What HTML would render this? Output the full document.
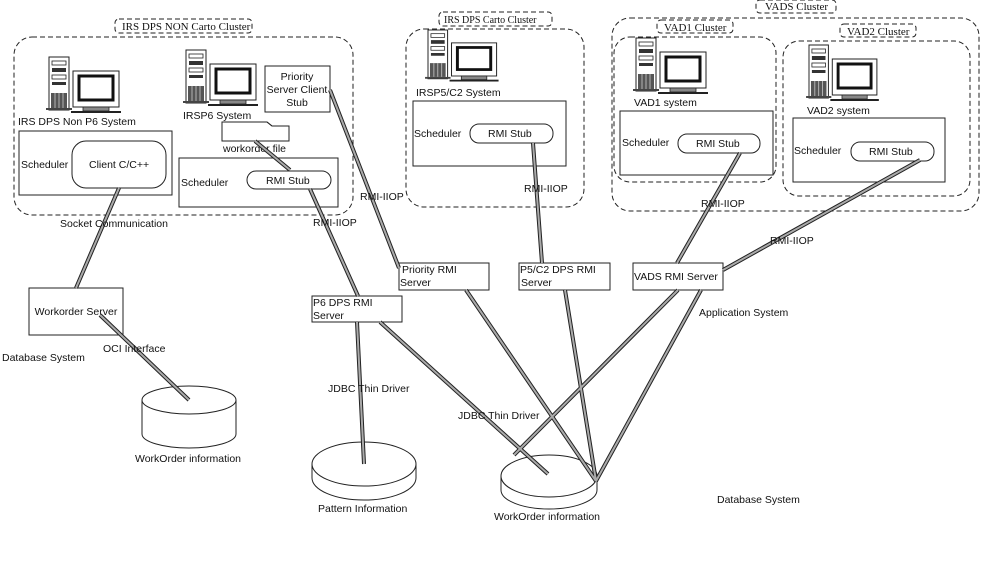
<!DOCTYPE html>
<html><head><meta charset="utf-8"><style>
html,body{margin:0;padding:0;background:#fff}
svg{display:block}
text{font-family:"Liberation Sans",sans-serif;font-size:10.5px;fill:#111}
.s{font-family:"Liberation Serif",serif;font-size:11px}
.d{fill:none;stroke:#222;stroke-width:1;stroke-dasharray:5,3}
.b{fill:#fff;stroke:#222;stroke-width:1}
.l1{stroke:#222;stroke-width:4;fill:none}
.l2{stroke:#aaa;stroke-width:2;fill:none}
</style></head><body>
<svg width="981" height="566" viewBox="0 0 981 566" xmlns="http://www.w3.org/2000/svg">
<defs>
<g id="pc">
<rect x="0" y="0" width="20" height="53" fill="#fff" stroke="#222"/>
<rect x="3" y="4" width="14" height="4" fill="#fff" stroke="#222" stroke-width="0.8"/>
<rect x="3" y="11" width="14" height="4" fill="#333"/>
<rect x="3" y="18" width="14" height="4" fill="#fff" stroke="#222" stroke-width="0.8"/>
<rect x="3" y="25" width="14" height="3" fill="#333"/>
<rect x="2" y="36" width="16" height="15" fill="#555"/>
<path d="M6 36v15M10 36v15M14 36v15" stroke="#ccc" stroke-width="0.8"/>
<rect x="-3" y="51" width="26" height="2" fill="#444"/>
<rect x="24" y="14" width="46" height="36" fill="#fff" stroke="#222"/>
<rect x="30" y="19" width="34" height="24" fill="#fff" stroke="#111" stroke-width="3"/>
<rect x="34" y="50" width="26" height="4" fill="#888" stroke="#222" stroke-width="0.8"/>
<rect x="22" y="54" width="50" height="2" fill="#222"/>
</g>
</defs>

<!-- clusters -->
<rect x="115" y="19" width="137" height="14" rx="4" class="d"/>
<text x="122" y="30" class="s">IRS DPS NON Carto Cluster</text>
<rect x="14" y="37" width="339" height="178" rx="18" class="d"/>

<rect x="439" y="12" width="113" height="14" rx="4" class="d"/>
<text x="444" y="23" class="s" style="font-size:10px">IRS DPS Carto Cluster</text>
<rect x="406" y="29" width="178" height="178" rx="18" class="d"/>

<rect x="756" y="0" width="80" height="13" rx="4" class="d"/>
<text x="765" y="10" class="s">VADS  Cluster</text>
<rect x="612" y="18" width="367" height="193" rx="18" class="d"/>
<rect x="657" y="20" width="76" height="13" rx="4" class="d"/>
<text x="664" y="31" class="s">VAD1 Cluster</text>
<rect x="614" y="37" width="162" height="145" rx="16" class="d"/>
<rect x="840" y="24" width="76" height="13" rx="4" class="d"/>
<text x="847" y="35" class="s">VAD2 Cluster</text>
<rect x="783" y="41" width="187" height="155" rx="16" class="d"/>

<!-- computers -->
<use href="#pc" transform="translate(49,57)"/>
<use href="#pc" transform="translate(186,50)"/>
<use href="#pc" transform="translate(428,30) scale(0.98,0.92)"/>
<use href="#pc" transform="translate(636,38)"/>
<use href="#pc" transform="translate(809,45) scale(0.97,1)"/>

<text x="18" y="125">IRS DPS Non P6 System</text>
<text x="183" y="119">IRSP6 System</text>
<text x="416" y="96">IRSP5/C2 System</text>
<text x="634" y="106">VAD1 system</text>
<text x="807" y="114">VAD2 system</text>

<!-- boxes -->
<rect x="19" y="131" width="153" height="64" class="b"/>
<text x="21" y="168">Scheduler</text>
<rect x="72" y="141" width="94" height="47" rx="14" class="b"/>
<text x="89" y="168">Client C/C++</text>

<rect x="265" y="66" width="65" height="46" class="b"/>
<text x="297" y="80" text-anchor="middle">Priority</text>
<text x="297" y="93" text-anchor="middle">Server Client</text>
<text x="297" y="106" text-anchor="middle">Stub</text>

<path d="M222 122h45l5 4h17v15h-67z" class="b"/>
<path d="M267 122l5 4" stroke="#222" fill="none"/>
<text x="223" y="152">workorder file</text>

<rect x="179" y="158" width="159" height="49" class="b"/>
<text x="181" y="186">Scheduler</text>
<rect x="247" y="171" width="84" height="18" rx="9" class="b"/>
<text x="266" y="184">RMI  Stub</text>

<rect x="413" y="101" width="153" height="65" class="b"/>
<text x="414" y="137">Scheduler</text>
<rect x="470" y="124" width="83" height="19" rx="9" class="b"/>
<text x="488" y="137">RMI  Stub</text>

<rect x="620" y="111" width="153" height="64" class="b"/>
<text x="622" y="146">Scheduler</text>
<rect x="678" y="134" width="82" height="19" rx="9" class="b"/>
<text x="696" y="147">RMI  Stub</text>

<rect x="793" y="118" width="152" height="64" class="b"/>
<text x="794" y="154">Scheduler</text>
<rect x="851" y="142" width="83" height="19" rx="9" class="b"/>
<text x="869" y="155">RMI  Stub</text>

<!-- servers -->
<rect x="29" y="288" width="94" height="47" class="b"/>
<text x="76" y="315" text-anchor="middle">Workorder Server</text>
<rect x="312" y="296" width="90" height="26" class="b"/>
<text x="313" y="306">P6 DPS RMI</text><text x="313" y="319">Server</text>
<rect x="399" y="263" width="90" height="27" class="b"/>
<text x="402" y="273">Priority RMI</text><text x="400" y="286">Server</text>
<rect x="519" y="263" width="91" height="27" class="b"/>
<text x="520" y="273">P5/C2 DPS RMI</text><text x="521" y="286">Server</text>
<rect x="633" y="263" width="90" height="27" class="b"/>
<text x="634" y="280">VADS RMI Server</text>

<!-- cylinders -->
<path d="M142 400v34a47 14 0 0 0 94 0v-34" class="b"/>
<ellipse cx="189" cy="400" rx="47" ry="14" class="b"/>
<text x="135" y="462">WorkOrder information</text>

<path d="M312 464v14a52 22 0 0 0 104 0v-14" class="b"/>
<ellipse cx="364" cy="464" rx="52" ry="22" class="b"/>
<text x="318" y="512">Pattern Information</text>

<path d="M501 476v14a48 19 0 0 0 96 0v-14" class="b"/>
<ellipse cx="549" cy="476" rx="48" ry="21" class="b"/>
<text x="494" y="520">WorkOrder information</text>

<!-- connectors -->
<g class="l1">
<path d="M119 188L76 288M100 315L189 400M255 141L290 170M310 189L358 296M330 90L399 268M357 322L364 464M380 322L548 474M466 290L596 481M533 143L542 263M565 290L596 481M740 153L677 263M920 160L723 270M678 290L514 455M701 290L596 481"/>
</g>
<g class="l2">
<path d="M119 188L76 288M100 315L189 400M255 141L290 170M310 189L358 296M330 90L399 268M357 322L364 464M380 322L548 474M466 290L596 481M533 143L542 263M565 290L596 481M740 153L677 263M920 160L723 270M678 290L514 455M701 290L596 481"/>
</g>

<!-- labels -->
<text x="60" y="227">Socket Communication</text>
<text x="313" y="226">RMI-IIOP</text>
<text x="360" y="200">RMI-IIOP</text>
<text x="524" y="192">RMI-IIOP</text>
<text x="701" y="207">RMI-IIOP</text>
<text x="770" y="244">RMI-IIOP</text>
<text x="103" y="352">OCI Interface</text>
<text x="2" y="361">Database System</text>
<text x="328" y="392">JDBC Thin Driver</text>
<text x="458" y="419">JDBC Thin Driver</text>
<text x="699" y="316">Application System</text>
<text x="717" y="503">Database System</text>
</svg>
</body></html>
